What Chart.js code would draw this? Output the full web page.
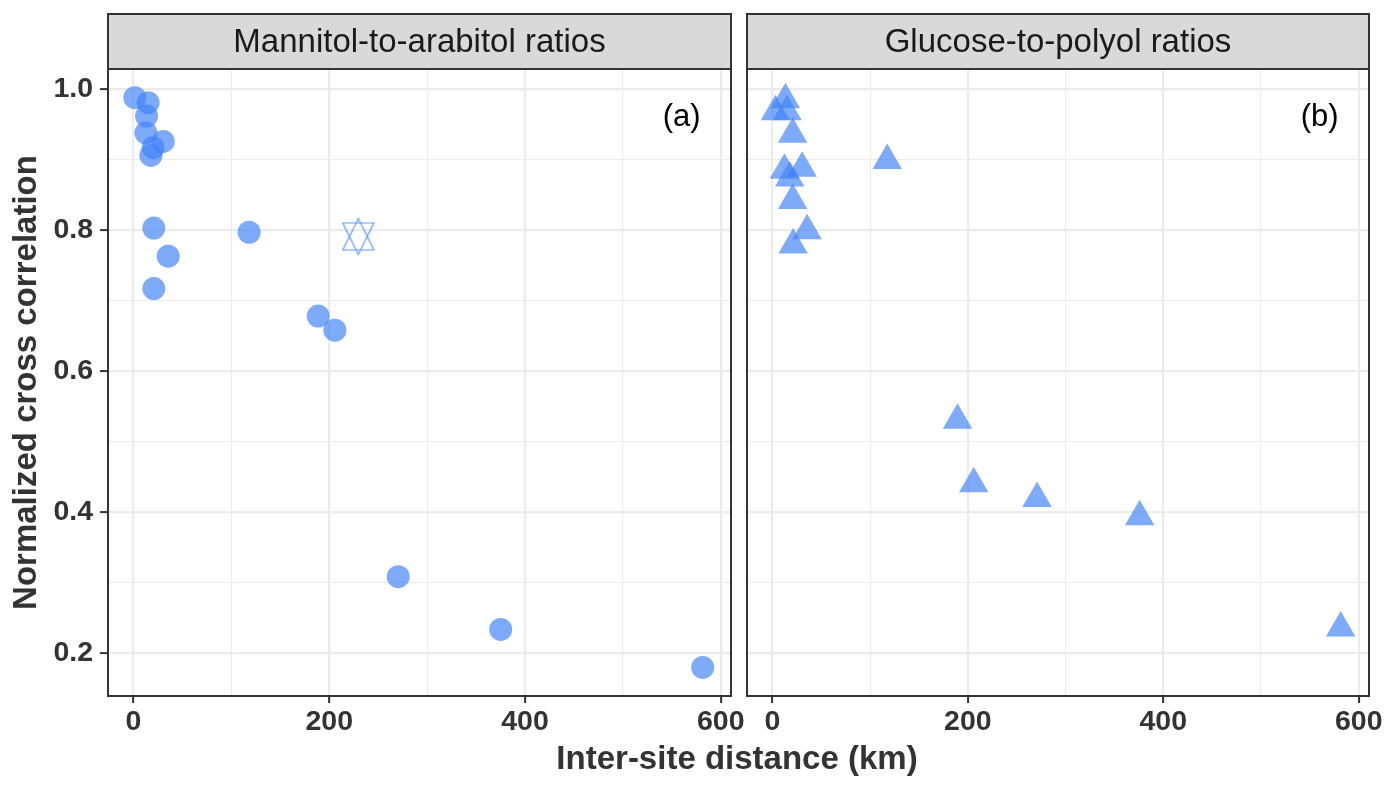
<!DOCTYPE html>
<html>
<head>
<meta charset="utf-8">
<script src="https://cdn.jsdelivr.net/npm/chart.js@4.4.0/dist/chart.umd.min.js"></script>
<style>
  body { margin: 0; background: #fff; width: 1398px; height: 790px; overflow: hidden; position: relative; font-family: "Liberation Sans", Arial, sans-serif; }
  canvas { position: absolute; top: 0; }
  #graficaIzq { left: 0; }
  #graficaDer { left: 740px; }
  #tituloX { position: absolute; left: 737px; top: 738px; transform: translateX(-50%); font-weight: bold; font-size: 33px; line-height: 40px; color: #333; white-space: nowrap; }
</style>
</head>
<body>
<canvas id="graficaIzq" width="760" height="790"></canvas>
<canvas id="graficaDer" width="658" height="790"></canvas>
<div id="tituloX">Inter-site distance (km)</div>
<script>
/* Datos */
// Panel (a): Mannitol-to-arabitol
const distanciaManitol = [1.4, 15.0, 13.4, 12.7, 30.4, 20.1, 17.8, 20.8, 118.2, 35.5, 20.8, 188.8, 205.8, 270.5, 375.2, 581.6];
const correlacionManitol = [0.988, 0.981, 0.962, 0.938, 0.926, 0.917, 0.906, 0.803, 0.797, 0.763, 0.717, 0.678, 0.658, 0.308, 0.233, 0.179];
// punto con estrella (hueco)
const distanciaEstrella = [229.8];
const correlacionEstrella = [0.791];
// Panel (b): Glucose-to-polyol
const distanciaGlucosa = [13.3, 3.1, 15.0, 20.7, 12.3, 30.4, 17.7, 20.7, 35.5, 21.2, 117.5, 189.4, 206.0, 270.8, 375.8, 581.5];
const correlacionGlucosa = [0.985, 0.968, 0.968, 0.936, 0.885, 0.888, 0.874, 0.842, 0.799, 0.779, 0.899, 0.530, 0.440, 0.419, 0.393, 0.235];

// Ejes
const ticksX = [0, 100, 200, 300, 400, 500, 600];
const etiquetasX = [0, 200, 400, 600];
const ticksY = [0.2, 0.3, 0.4, 0.5, 0.6, 0.7, 0.8, 0.9, 1.0];
const etiquetasY = [0.2, 0.4, 0.6, 0.8, 1.0];
const titulosPanel = ["Mannitol-to-arabitol ratios", "Glucose-to-polyol ratios"];
const letrasPanel = ["(a)", "(b)"];
const posLetraX = 560;
const posLetraY = 0.96;

const FUENTE = '"Liberation Sans", Arial, sans-serif';
const AZUL = "rgba(65, 130, 247, 0.68)";

const esEtiqueta = (lista, v) => lista.some((e) => Math.abs(e - v) < 1e-6);
const aPuntos = (xs, ys) => xs.map((x, i) => ({ x: x, y: ys[i] }));

// estrella de seis puntas (dos triangulos) como pointStyle
const crearEstrella = () => {
  const c = document.createElement("canvas");
  c.width = 40;
  c.height = 40;
  const g = c.getContext("2d");
  const r = 18;
  const xc = (Math.sqrt(3) / 2) * r;
  const yc = 0.75 * r;
  g.strokeStyle = "rgba(70, 135, 246, 0.85)";
  g.lineWidth = 1.2;
  g.beginPath();
  g.moveTo(20, 20 - r);
  g.lineTo(20 + xc, 20 + yc);
  g.lineTo(20 - xc, 20 + yc);
  g.closePath();
  g.moveTo(20, 20 + r);
  g.lineTo(20 + xc, 20 - yc);
  g.lineTo(20 - xc, 20 - yc);
  g.closePath();
  g.stroke();
  return c;
};

// tira gris con el titulo, borde del panel y letra
const pluginTira = {
  id: "tira",
  afterDraw(chart, args, opts) {
    const { ctx, chartArea: a } = chart;
    const arriba = 14;
    ctx.save();
    ctx.fillStyle = "#D9D9D9";
    ctx.fillRect(a.left, arriba, a.right - a.left, a.top - arriba);
    ctx.strokeStyle = "#333333";
    ctx.lineWidth = 2;
    ctx.strokeRect(a.left, arriba, a.right - a.left, a.top - arriba);
    ctx.strokeRect(a.left, a.top, a.right - a.left, a.bottom - a.top);
    ctx.fillStyle = "#1A1A1A";
    ctx.font = "33px " + FUENTE;
    ctx.textAlign = "center";
    ctx.textBaseline = "middle";
    ctx.fillText(opts.texto, (a.left + a.right) / 2, (arriba + a.top) / 2 + 1);
    ctx.fillStyle = "#000";
    ctx.font = "31px " + FUENTE;
    ctx.fillText(opts.letra, chart.scales.x.getPixelForValue(posLetraX), chart.scales.y.getPixelForValue(posLetraY));
    ctx.restore();
  },
};

const ejeX = () => ({
  type: "linear",
  min: -26,
  max: 610.5,
  afterBuildTicks: (s) => { s.ticks = ticksX.map((v) => ({ value: v })); },
  afterFit: (s) => {
    s.height = 94;
    s.paddingLeft = 0;
    s.paddingRight = 0;
  },
  border: { display: false },
  grid: {
    color: "#EBEBEB",
    lineWidth: (c) => (esEtiqueta(etiquetasX, c.tick.value) ? 2.2 : 1.1),
    tickColor: (c) => (esEtiqueta(etiquetasX, c.tick.value) ? "#333333" : "rgba(0,0,0,0)"),
    tickWidth: 2,
    tickLength: 7,
  },
  ticks: {
    autoSkip: false,
    maxRotation: 0,
    padding: 2,
    color: "#333333",
    font: { family: FUENTE, size: 28.5, weight: "bold" },
    callback: (v) => (esEtiqueta(etiquetasX, v) ? String(v) : ""),
  },
});

const ejeY = (conEtiquetas) => ({
  type: "linear",
  min: 0.1385,
  max: 1.0288,
  afterBuildTicks: (s) => { s.ticks = ticksY.map((v) => ({ value: v })); },
  afterFit: (s) => {
    s.width = conEtiquetas ? 108 : 7;
    s.paddingTop = 0;
    s.paddingBottom = 0;
  },
  border: { display: false },
  grid: {
    color: "#EBEBEB",
    lineWidth: (c) => (esEtiqueta(etiquetasY, c.tick.value) ? 2.2 : 1.1),
    tickColor: (c) => (esEtiqueta(etiquetasY, c.tick.value) ? "#333333" : "rgba(0,0,0,0)"),
    tickWidth: 2,
    tickLength: 8,
    drawTicks: conEtiquetas,
  },
  ticks: {
    display: conEtiquetas,
    autoSkip: false,
    padding: 7,
    color: "#333333",
    font: { family: FUENTE, size: 28.5, weight: "bold" },
    callback: (v) => (esEtiqueta(etiquetasY, v) ? v.toFixed(1) : ""),
  },
  title: {
    display: conEtiquetas,
    text: "Normalized cross correlation",
    color: "#333333",
    padding: { top: 7, bottom: 0 },
    font: { family: FUENTE, size: 33, weight: "bold" },
  },
});

const opcionesBase = (i, conEtiquetas, padding) => ({
  responsive: false,
  animation: false,
  layout: { padding: padding, autoPadding: false },
  plugins: {
    legend: { display: false },
    tooltip: { enabled: false },
    tira: { texto: titulosPanel[i], letra: letrasPanel[i] },
  },
  scales: { x: ejeX(), y: ejeY(conEtiquetas) },
});

new Chart(document.getElementById("graficaIzq").getContext("2d"), {
  type: "scatter",
  data: {
    datasets: [
      {
        label: "Mannitol-to-arabitol",
        data: aPuntos(distanciaManitol, correlacionManitol),
        pointStyle: "circle",
        pointRadius: 11.5,
        pointHoverRadius: 11.5,
        backgroundColor: AZUL,
        borderWidth: 0,
      },
      {
        label: "Estrella",
        data: aPuntos(distanciaEstrella, correlacionEstrella),
        pointStyle: crearEstrella(),
        pointRadius: 18,
        borderWidth: 0,
      },
    ],
  },
  options: opcionesBase(0, true, { top: 69, right: 29, bottom: 0, left: 0 }),
  plugins: [pluginTira],
});

new Chart(document.getElementById("graficaDer").getContext("2d"), {
  type: "scatter",
  data: {
    datasets: [
      {
        label: "Glucose-to-polyol",
        data: aPuntos(distanciaGlucosa, correlacionGlucosa),
        pointStyle: "triangle",
        pointRadius: 17,
        pointHoverRadius: 17,
        backgroundColor: AZUL,
        borderWidth: 0,
      },
    ],
  },
  options: opcionesBase(1, false, { top: 69, right: 29, bottom: 0, left: 0 }),
  plugins: [pluginTira],
});
</script>
</body>
</html>
